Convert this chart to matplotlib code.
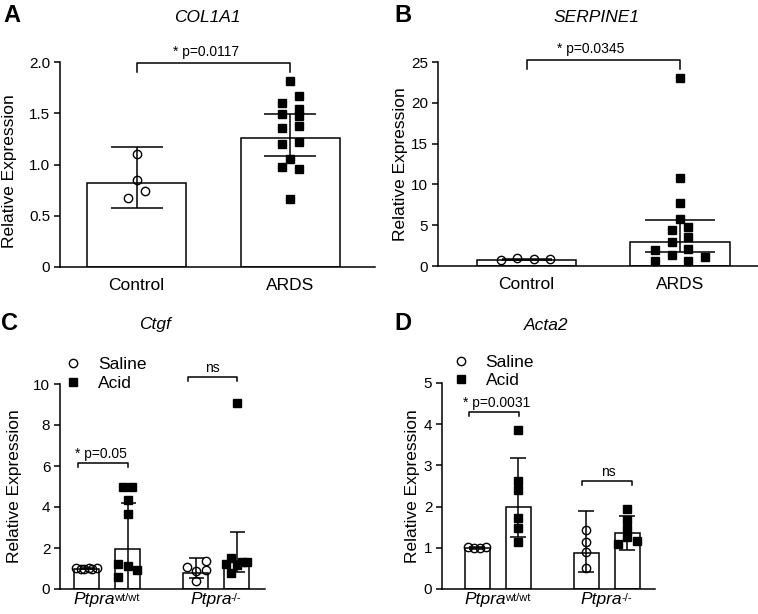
import matplotlib
matplotlib.use("Agg")
import matplotlib.pyplot as plt
from matplotlib.lines import Line2D
import numpy as np

plt.rcParams['font.family'] = ['Liberation Sans', 'DejaVu Sans']

# ---------------- data ----------------
# Panel A: COL1A1
a_categories = ["Control", "ARDS"]
a_means = [0.816, 1.256]
a_upper = [1.168, 1.49]
a_lower = [0.579, 1.083]
a_control_pts = [1.10, 0.85, 0.74, 0.67]
a_control_off = [0.0, 0.0, 0.054, -0.054]
a_ards_pts = [1.81, 1.67, 1.60, 1.54, 1.49, 1.47, 1.38, 1.36, 1.22, 1.20, 1.05, 0.98, 0.96, 0.66]
a_ards_off = [0, 0.054, -0.054, 0.054, -0.054, 0.054, 0.054, -0.054, 0.054, -0.054, 0, -0.054, 0.054, 0]
a_yticks = [0, 0.5, 1.0, 1.5, 2.0]
a_yticklabels = ["0", "0.5", "1.0", "1.5", "2.0"]

# Panel B: SERPINE1
b_categories = ["Control", "ARDS"]
b_means = [0.75, 2.98]
b_upper = [0.90, 5.65]
b_lower = [0.75, 1.68]
b_control_pts = [0.74, 0.94, 0.82, 0.86]
b_control_off = [-0.168, -0.060, 0.049, 0.153]
b_ards_pts = [23.1, 10.76, 7.77, 5.77, 4.42, 4.83, 3.60, 2.99, 1.96, 2.05, 1.35, 1.15, 0.61, 0.61]
b_ards_off = [0, 0, 0, 0, -0.054, 0.054, 0.054, -0.054, -0.163, 0.054, -0.054, 0.163, -0.163, 0.054]
b_yticks = [0, 5, 10, 15, 20, 25]
b_yticklabels = ["0", "5", "10", "15", "20", "25"]

# Panels C/D: groups
group_names = ["Ptpra", "Ptpra"]
group_sups = ["wt/wt", "-/-"]
bar_pos = [0.0, 1.0, 2.66, 3.66]  # saline wt, acid wt, saline ko, acid ko
group_centers = [0.5, 3.16]

# Panel C: Ctgf
c_means = [1.0, 1.95, 0.80, 1.38]
c_upper = [1.04, 4.19, 1.53, 2.80]
c_lower = [0.96, -0.3, 0.52, 0.85]
c_pts = [
    [1.02, 1.00, 0.99, 1.01, 1.00, 1.02],
    [5.0, 5.0, 4.35, 3.65, 1.21, 1.12, 0.93, 0.60],
    [1.09, 1.38, 0.93, 0.89, 0.41],
    [9.07, 1.50, 1.22, 1.17, 1.33, 1.33, 0.80],
]
c_off = [
    [-0.244, -0.146, -0.049, 0.049, 0.146, 0.244],
    [-0.117, 0.11, 0, 0, -0.24, 0, 0.24, -0.24],
    [-0.215, 0.25, 0.25, 0, 0],
    [0, -0.13, -0.26, 0, 0.13, 0.25, -0.13],
]
c_yticks = [0, 2, 4, 6, 8, 10]

# Panel D: Acta2
d_means = [1.0, 1.98, 0.87, 1.35]
d_upper = [1.02, 3.19, 1.90, 1.76]
d_lower = [0.98, 1.27, 0.42, 0.95]
d_pts = [
    [1.01, 1.00, 1.00, 1.01],
    [3.85, 2.61, 2.41, 1.72, 1.49, 1.14],
    [1.42, 1.15, 0.89, 0.50],
    [1.94, 1.68, 1.46, 1.27, 1.09, 1.17],
]
d_off = [
    [-0.21, -0.07, 0.07, 0.21],
    [0, 0, 0, 0, 0, 0],
    [0, 0, 0, 0],
    [0, 0, 0, 0, -0.22, 0.24],
]
d_yticks = [0, 1, 2, 3, 4, 5]

# ---------------- figure ----------------
W, H = 758, 614
fig = plt.figure(figsize=(W / 100, H / 100), dpi=100)

def px_axes(l, r, t, b):
    return fig.add_axes([l / W, 1 - b / H, (r - l) / W, (b - t) / H])

LW = 1.1
SQ = dict(marker='s', color='black', markersize=5.7, linestyle='none', zorder=5, clip_on=False)
CI = dict(marker='o', markerfacecolor='none', markeredgecolor='black', markeredgewidth=1.0,
          markersize=6.0, linestyle='none', zorder=5, clip_on=False)

def style(ax, yticks, ylabels, ylim, tick_fs=11, xpad=8):
    for s in ['top', 'right']:
        ax.spines[s].set_visible(False)
    for s in ['left', 'bottom']:
        ax.spines[s].set_linewidth(LW)
    ax.set_ylim(*ylim)
    ax.set_yticks(yticks)
    ax.set_yticklabels(ylabels, fontsize=tick_fs)
    ax.tick_params(axis='y', length=4, width=LW, pad=3)
    ax.tick_params(axis='x', length=0, pad=xpad, labelsize=12.5)
    ax.set_ylabel("Relative Expression", fontsize=12.5)

def draw_group(ax, x, mean, lo, hi, pts, offs, width, marker, capsize):
    ax.bar([x], [mean], width=width, color='white', edgecolor='black', linewidth=LW, zorder=2)
    ax.errorbar([x], [mean], yerr=[[mean - lo], [hi - mean]], fmt='none', ecolor='black',
                elinewidth=LW, capsize=capsize, capthick=LW, zorder=3)
    ax.plot(np.array(offs) + x, pts, **marker)

def bracket(ax, x0, x1, y, ytick, text, tx, ty, fs=10):
    ax.plot([x0, x0, x1, x1], [ytick, y, y, ytick], color='black', lw=LW, clip_on=False, zorder=6)
    ax.text(tx, ty, text, ha='center', va='center', fontsize=fs, clip_on=False)

def group_labels(ax):
    ax.set_xticks([])
    for xc, name, sup in zip(group_centers, group_names, group_sups):
        shift = -9 if len(sup) > 3 else -3.8
        t = ax.annotate(name, xy=(xc, 0), xycoords=('data', 'axes fraction'),
                        xytext=(shift, -2), textcoords='offset points',
                        ha='center', va='top', fontsize=12.5, style='italic', annotation_clip=False)
        ax.annotate(sup, xy=(1, 0.93), xycoords=t, xytext=(-0.6, 0), textcoords='offset points',
                    ha='left', va='top', fontsize=8, annotation_clip=False)

# Panel A
axA = px_axes(60, 375, 62, 267)
draw_group(axA, 0, a_means[0], a_lower[0], a_upper[0], a_control_pts, a_control_off, 0.643, CI, 18.5)
draw_group(axA, 1, a_means[1], a_lower[1], a_upper[1], a_ards_pts, a_ards_off, 0.643, SQ, 18.5)
axA.set_xlim(-0.497, 1.549)
axA.set_xticks([0, 1])
axA.set_xticklabels(a_categories)
style(axA, a_yticks, a_yticklabels, (0, 2.0))
axA.yaxis.set_label_coords(-0.137, 0.47)
bracket(axA, 0, 1, 1.99, 1.90, "* p=0.0117", 0.45, 2.10)

# Panel B
axB = px_axes(438, 758, 62, 266)
draw_group(axB, 0, b_means[0], b_lower[0], b_upper[0], b_control_pts, b_control_off, 0.648, CI, 18)
draw_group(axB, 1, b_means[1], b_lower[1], b_upper[1], b_ards_pts, b_ards_off, 0.648, SQ, 25.5)
axB.set_xlim(-0.577, 1.508)
axB.set_xticks([0, 1])
axB.set_xticklabels(b_categories)
style(axB, b_yticks, b_yticklabels, (0, 25))
axB.yaxis.set_label_coords(-0.094, 0.5)
bracket(axB, 0, 1, 25.3, 24.2, "* p=0.0345", 0.42, 26.6)

# Panel C
axC = px_axes(60, 265, 384, 589)
markers = [CI, SQ, CI, SQ]
for i in range(4):
    draw_group(axC, bar_pos[i], c_means[i], c_lower[i], c_upper[i], c_pts[i], c_off[i], 0.61, markers[i], 5.4)
axC.set_xlim(-0.646, 4.35)
style(axC, c_yticks, [str(v) for v in c_yticks], (0, 10))
group_labels(axC)
axC.yaxis.set_label_coords(-0.187, 0.5)
bracket(axC, -0.2, 1.0, 6.16, 5.97, "* p=0.05", 0.36, 6.6)
bracket(axC, 2.48, 3.67, 10.36, 10.16, "ns", 3.07, 10.8)

# Panel D
axD = px_axes(442, 655, 383, 589)
for i in range(4):
    draw_group(axD, bar_pos[i], d_means[i], d_lower[i], d_upper[i], d_pts[i], d_off[i], 0.61, markers[i], 5.8)
axD.set_xlim(-0.854, 4.34)
style(axD, d_yticks, [str(v) for v in d_yticks], (0, 5))
group_labels(axD)
axD.yaxis.set_label_coords(-0.105, 0.5)
bracket(axD, -0.195, 1.02, 4.30, 4.21, "* p=0.0031", 0.48, 4.51)
bracket(axD, 2.56, 3.78, 2.62, 2.53, "ns", 3.2, 2.85)

# Legends
def add_legend(ax, anchor, spacing):
    handles = [Line2D([], [], **{k: v for k, v in CI.items() if k not in ('zorder', 'clip_on')}),
               Line2D([], [], **{k: v for k, v in SQ.items() if k not in ('zorder', 'clip_on')})]
    ax.legend(handles, ["Saline", "Acid"], loc='upper left', bbox_to_anchor=anchor, frameon=False,
              fontsize=12.5, handlelength=1.0, handletextpad=0.9, borderpad=0, borderaxespad=0,
              labelspacing=spacing)

add_legend(axC, (0.023, 1.131), 0.22)
add_legend(axD, (0.050, 1.135), 0.17)

# Titles and panel letters
fig.text(207 / W, 1 - 18 / H, "COL1A1", ha='center', va='center', fontsize=12.5, style='italic')
fig.text(596 / W, 1 - 17 / H, "SERPINE1", ha='center', va='center', fontsize=12.5, style='italic')
fig.text(155 / W, 1 - 325 / H, "Ctgf", ha='center', va='center', fontsize=12.5, style='italic')
fig.text(546 / W, 1 - 325 / H, "Acta2", ha='center', va='center', fontsize=12.5, style='italic')

for letter, x, y in [("A", 12, 15), ("B", 403, 15), ("C", 10, 323), ("D", 403, 324)]:
    fig.text(x / W, 1 - y / H, letter, ha='center', va='center', fontsize=17, fontweight='bold')

fig.savefig("out.png", dpi=100)
